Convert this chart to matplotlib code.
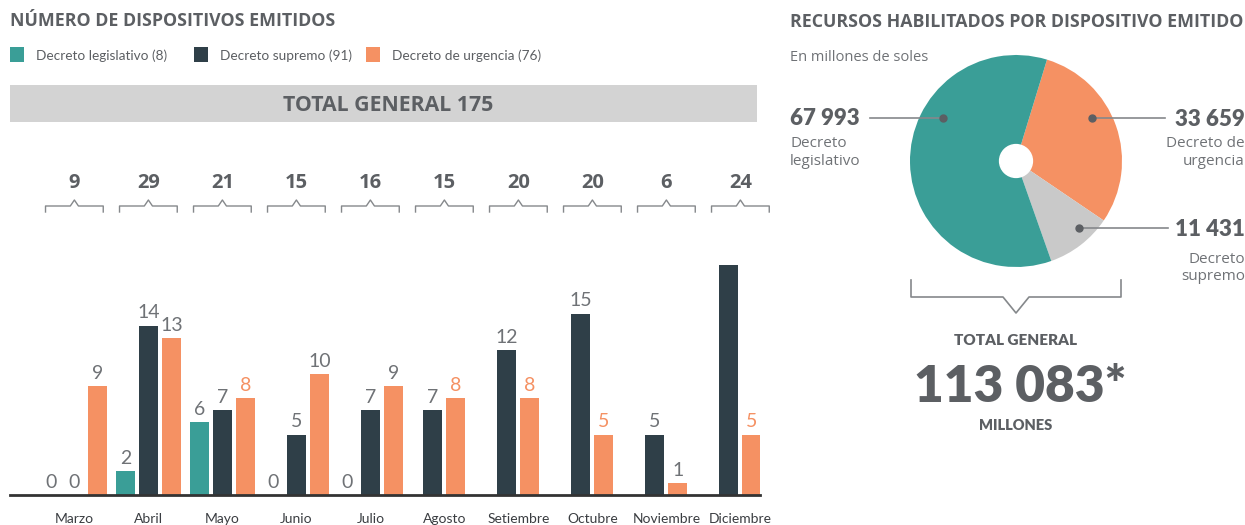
import matplotlib
matplotlib.use("Agg")
import matplotlib.pyplot as plt
from matplotlib import transforms
from matplotlib.patches import Rectangle, Circle

# ---------------- data ----------------
months = ["Marzo", "Abril", "Mayo", "Junio", "Julio", "Agosto",
          "Setiembre", "Octubre", "Noviembre", "Diciembre"]
legislativo = [0, 2, 6, 0, 0, None, None, None, None, None]   # None: not drawn
supremo = [0, 14, 7, 5, 7, 7, 12, 15, 5, 19]
urgencia = [9, 13, 8, 10, 9, 8, 8, 5, 1, 5]
series_names = ["Decreto legislativo", "Decreto supremo", "Decreto de urgencia"]

pie_names = ["Decreto de urgencia", "Decreto supremo", "Decreto legislativo"]
pie_values = [33659, 11431, 67993]

# ---------------- style ----------------
TEAL = "#3a9e97"
DARK = "#2f3f48"
ORANGE = "#f59163"
PIEGRAY = "#c9c9c9"
BANNER = "#d3d3d3"
TXT = "#5c5f63"
LTXT = "#6f7276"
LINE = "#85888b"
urg_label_colors = [LTXT, LTXT, ORANGE, LTXT, LTXT, ORANGE, ORANGE, ORANGE, LTXT, ORANGE]

BOLD = ["Open Sans", "DejaVu Sans"]
HEAVY = ["Lato", "DejaVu Sans"]
NUM = ["Lato", "DejaVu Sans"]
COND = ["Lato", "DejaVu Sans"]
REG = ["Open Sans", "DejaVu Sans"]

W, H = 1245, 525
fig = plt.figure(figsize=(W / 100, H / 100), dpi=100)
fig.patch.set_facecolor("white")


def fmt(v):
    return f"{v:,}".replace(",", " ")


# overlay axes in pixel coordinates (y downwards)
ov = fig.add_axes([0, 0, 1, 1], zorder=5)
ov.set_xlim(0, W)
ov.set_ylim(H, 0)
ov.axis("off")
ov.patch.set_alpha(0)

# ---------------- left: titles & legend ----------------
ov.text(10, 26, "NÚMERO DE DISPOSITIVOS EMITIDOS", fontsize=12.8, fontweight="bold",
        color=TXT, family=BOLD, va="baseline", ha="left")

leg_totals = [sum(v for v in legislativo if v is not None), sum(supremo), sum(urgencia)]
leg_colors = [TEAL, DARK, ORANGE]
leg_x = [10, 194, 366]
for name, tot, col, x in zip(series_names, leg_totals, leg_colors, leg_x):
    ov.add_patch(Rectangle((x, 47), 14, 15, color=col, lw=0))
    ov.text(x + 26, 60, f"{name} ({tot})", fontsize=9.8, color=TXT, family=COND,
            va="baseline", ha="left")

ov.add_patch(Rectangle((10, 85), 747, 37, color=BANNER, lw=0))
ov.text(388, 111, f"TOTAL GENERAL {sum(leg_totals)}", fontsize=15.3, fontweight="bold",
        color=TXT, family=BOLD, va="baseline", ha="center")

# ---------------- bar chart ----------------
ax = fig.add_axes([10 / W, 30 / H, 750 / W, 245 / H], zorder=3)
ax.set_xlim(-0.87, 9.265)
YTOP = 20.25
ax.set_ylim(0, YTOP)
ax.axis("off")
ax.patch.set_alpha(0)

bw = 0.257
off = 0.311
xs_l, vs_l, xs_s, xs_u = [], [], [], []
for i in range(len(months)):
    if legislativo[i] is None:
        xs_s.append(i - off / 2)
        xs_u.append(i + off / 2)
    else:
        xs_l.append(i - off)
        vs_l.append(legislativo[i])
        xs_s.append(i)
        xs_u.append(i + off)

ax.bar(xs_l, vs_l, width=bw, color=TEAL, zorder=2)
ax.bar(xs_s, supremo, width=bw, color=DARK, zorder=2)
ax.bar(xs_u, urgencia, width=bw, color=ORANGE, zorder=2)
ax.axhline(0, color="#333333", lw=2, zorder=3, clip_on=False)


def vlabel(x, v, col):
    if v > YTOP - 1.8:
        return
    ax.annotate(str(v), (x, v), xytext=(0, 3), textcoords="offset points",
                ha="center", va="bottom", fontsize=14, fontweight="normal",
                family=NUM, color=col, zorder=4)


for x, v in zip(xs_l, vs_l):
    vlabel(x, v, LTXT)
for x, v in zip(xs_s, supremo):
    vlabel(x, v, LTXT)
for x, v, c in zip(xs_u, urgencia, urg_label_colors):
    vlabel(x, v, c)

# month labels, totals and brackets: x from the bar axes, y in pixels
bt = transforms.blended_transform_factory(ax.transData, ov.transData)
month_totals = [(l or 0) + s + u for l, s, u in zip(legislativo, supremo, urgencia)]
hw, cw = 0.39, 0.055
for i, (m, t) in enumerate(zip(months, month_totals)):
    ov.text(i, 523, m, transform=bt, fontsize=10, color="#3a3d41", family=COND,
            ha="center", va="baseline")
    ov.text(i, 188, str(t), transform=bt, fontsize=14.5, fontweight="bold", color=TXT,
            family=BOLD, ha="center", va="baseline")
    ov.plot([i - hw, i - hw, i - cw, i, i + cw, i + hw, i + hw],
            [212, 206, 206, 200, 206, 206, 212], transform=bt, color=LINE, lw=1)

# ---------------- right: pie ----------------
ov.text(790, 27, "RECURSOS HABILITADOS POR DISPOSITIVO EMITIDO", fontsize=12.8,
        fontweight="bold", color=TXT, family=BOLD, va="baseline", ha="left")
ov.text(790, 61, "En millones de soles", fontsize=10.5, color=LTXT, family=REG,
        va="baseline", ha="left")

pax = fig.add_axes([910 / W, (H - 267) / H, 212 / W, 212 / H], zorder=2)
pax.pie(pie_values, colors=[ORANGE, PIEGRAY, TEAL], startangle=73, counterclock=False,
        radius=1, wedgeprops=dict(linewidth=0))
pax.add_patch(Circle((0, 0), 0.155, color="white", zorder=3))
pax.set_xlim(-1, 1)
pax.set_ylim(-1, 1)
pax.set_aspect("equal")
pax.axis("off")

vals = dict(zip(pie_names, pie_values))
# Decreto legislativo (left)
ov.plot([870, 943], [118, 118], color=LINE, lw=1.2)
ov.plot([943], [118], "o", color="#5c5f63", ms=5)
ov.text(790, 125, fmt(vals["Decreto legislativo"]), fontsize=16, fontweight="heavy",
        color=TXT, family=HEAVY, ha="left", va="baseline")
ov.text(790, 147, "Decreto", fontsize=11, color=LTXT, family=REG, ha="left", va="baseline")
ov.text(790, 165, "legislativo", fontsize=11, color=LTXT, family=REG, ha="left", va="baseline")
# Decreto de urgencia (right top)
ov.plot([1092, 1165], [118, 118], color=LINE, lw=1.2)
ov.plot([1092], [118], "o", color="#5c5f63", ms=5)
ov.text(1245, 126, fmt(vals["Decreto de urgencia"]), fontsize=16, fontweight="heavy",
        color=TXT, family=HEAVY, ha="right", va="baseline")
ov.text(1245, 147, "Decreto de", fontsize=11, color=LTXT, family=REG, ha="right", va="baseline")
ov.text(1245, 165, "urgencia", fontsize=11, color=LTXT, family=REG, ha="right", va="baseline")
# Decreto supremo (right bottom)
ov.plot([1079, 1168], [228, 228], color=LINE, lw=1.2)
ov.plot([1079], [228], "o", color="#5c5f63", ms=5)
ov.text(1245, 236, fmt(vals["Decreto supremo"]), fontsize=16, fontweight="heavy",
        color=TXT, family=HEAVY, ha="right", va="baseline")
ov.text(1245, 263, "Decreto", fontsize=11, color=LTXT, family=REG, ha="right", va="baseline")
ov.text(1245, 280, "supremo", fontsize=11, color=LTXT, family=REG, ha="right", va="baseline")

# bracket under the pie and total
ov.plot([911, 911, 1003, 1016, 1029, 1121, 1121], [280, 297, 297, 313, 297, 297, 280],
        color=LINE, lw=1.2)
ov.text(1016, 345, "TOTAL GENERAL", fontsize=11, fontweight="heavy", color=TXT,
        family=HEAVY, ha="center", va="baseline")
ov.text(1020, 402, fmt(sum(pie_values)) + "*", fontsize=37, fontweight="heavy",
        color=TXT, family=HEAVY, ha="center", va="baseline")
ov.text(1016, 430, "MILLONES", fontsize=10.5, fontweight="heavy", color=TXT,
        family=HEAVY, ha="center", va="baseline")

fig.savefig("out.png", dpi=100, facecolor="white")
